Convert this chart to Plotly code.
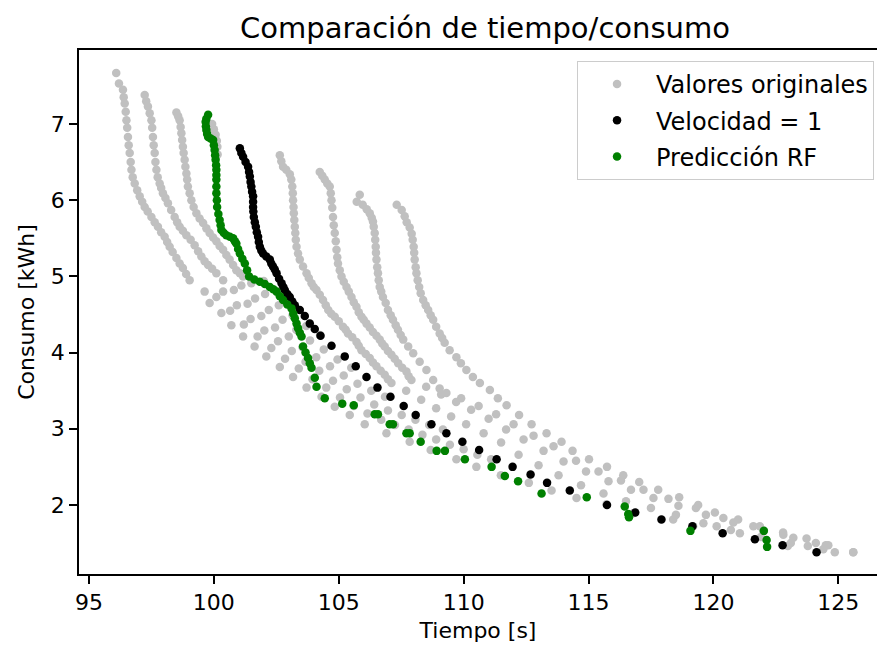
import plotly.graph_objects as go

# ---------------- data ----------------
# "Valores originales": gray curves (time [s], consumption [kWh])
gray_c1 = [(96.09,7.67),(96.20,7.53),(96.36,7.45),(96.39,7.35),(96.43,7.27),(96.47,7.16),(96.50,7.05),
           (96.53,6.95),(96.56,6.83),(96.59,6.72),(96.63,6.62),(96.67,6.50),(96.70,6.40),(96.75,6.30),
           (96.83,6.22),(96.93,6.13),(97.03,6.05),(97.13,5.98),(97.23,5.91),(97.35,5.85),(97.50,5.78),
           (97.63,5.71),(97.76,5.65),(97.89,5.58),(98.03,5.52),(98.13,5.45),(98.23,5.39),(98.35,5.32),
           (98.50,5.24),(98.63,5.17),(98.76,5.11),(98.89,5.03),(99.03,4.95),
           (99.63,4.80),(99.83,4.65),(100.30,4.52),(100.70,4.36),(101.17,4.21),(101.63,4.08),(102.10,3.95),
           (102.64,3.81),(103.17,3.68),(103.71,3.54),(104.31,3.42),(104.84,3.29),(105.44,3.18),(106.04,3.06),
           (106.91,2.94),(107.84,2.83),(108.68,2.72),(109.71,2.60),(110.51,2.50),(111.49,2.39),(112.61,2.29),
           (113.52,2.19),(114.52,2.09),(115.72,2.01),(116.79,1.89),(118.39,1.81),(119.19,1.72),(120.13,1.72),
           (121.06,1.63),(122.98,1.46),(123.78,1.46),(124.86,1.38),(125.60,1.38)]
gray_c2 = [(97.23,7.38),(97.29,7.30),(97.36,7.23),(97.43,7.14),(97.50,7.05),(97.53,6.95),(97.56,6.83),
           (97.59,6.72),(97.63,6.62),(97.66,6.50),(97.70,6.40),(97.75,6.30),(97.83,6.22),(97.89,6.16),
           (97.96,6.09),(98.06,6.03),(98.16,5.96),(98.29,5.87),(98.43,5.78),(98.53,5.71),(98.63,5.65),
           (98.76,5.60),(98.90,5.54),(99.07,5.48),(99.23,5.41),(99.37,5.33),(99.50,5.26),(99.63,5.20),
           (99.77,5.15),(99.93,5.10),(100.10,5.04),(100.37,4.95)]
gray_c3 = [(98.50,7.15),(98.57,7.10),(98.63,7.05),(98.67,6.96),(98.70,6.88),(98.73,6.79),(98.76,6.70),
           (98.79,6.62),(98.83,6.53),(98.86,6.44),(98.90,6.35),(98.93,6.27),(98.96,6.18),(99.03,6.09),
           (99.10,6.00),(99.19,5.91),(99.30,5.83),(99.43,5.76),(99.57,5.70),(99.70,5.63),(99.83,5.57),
           (99.97,5.51),(100.10,5.46),(100.23,5.40),(100.37,5.35),(100.50,5.28),(100.63,5.22),(100.77,5.15),
           (100.90,5.08),(101.04,5.04),(101.17,5.00)]
gray_c3b = [(99.93,7.00),(100.00,6.93),(100.07,6.86),(100.12,6.78),(100.14,6.70),(100.15,6.60)]
# sparse lattice rows between the lowest curve and the "Velocidad = 1" curve
gray_row1 = [(100.10,4.73),(100.65,4.55),(101.20,4.37),(101.75,4.21),(102.30,4.06),(102.85,3.92),(103.40,3.79),
             (103.95,3.65),(104.50,3.54),(105.05,3.41),(105.60,3.30),(106.15,3.20),(106.70,3.12),(107.25,3.05),
             (107.80,2.99),(108.35,2.92),(108.90,2.86),(109.45,2.79),(110.00,2.73),(110.55,2.66),(111.10,2.60)]
gray_row2 = [(100.37,4.80),(100.92,4.62),(101.47,4.44),(102.02,4.29),(102.57,4.15),(103.12,4.02),(103.67,3.88),
             (104.22,3.76),(104.77,3.63),(105.32,3.52),(105.87,3.41),(106.42,3.32),(106.97,3.24),(107.52,3.18),
             (108.07,3.12),(108.62,3.05),(109.17,2.99)]
gray_row3 = [(100.80,4.82),(101.35,4.64),(101.90,4.48),(102.45,4.33),(103.00,4.21),(103.55,4.07),(104.10,3.94),
             (104.65,3.82),(105.20,3.70),(105.75,3.59),(106.30,3.50),(106.85,3.42)]
gray_row4 = [(101.10,4.88),(101.65,4.71),(102.20,4.56),(102.75,4.43),(103.30,4.30),(103.85,4.16),(104.40,4.04),
             (104.95,3.91),(105.50,3.80)]
gray_row5 = [(101.50,4.91),(102.05,4.77),(102.60,4.62),(103.15,4.49),(103.70,4.35),(104.25,4.23)]
gray_row6 = [(102.00,4.94),(102.55,4.80),(103.10,4.67)]
gray_c4 = [(102.64,6.59),(102.70,6.51),(102.77,6.44),(102.90,6.40),(103.04,6.34),(103.10,6.27),(103.14,6.18),
           (103.16,6.09),(103.17,6.00),(103.19,5.91),(103.20,5.83),(103.22,5.74),(103.24,5.65),(103.26,5.57),
           (103.28,5.48),(103.31,5.39),(103.37,5.30),(103.44,5.22),(103.57,5.13),(103.71,5.04),(103.80,4.98),
           (103.91,4.91),(104.00,4.86),(104.11,4.82),(104.24,4.76),(104.37,4.69),(104.48,4.62),(104.58,4.56),
           (104.70,4.51),(104.84,4.47),(105.00,4.41),(105.17,4.34),(105.28,4.30),(105.37,4.25),(105.54,4.20),
           (105.71,4.14),(105.80,4.09),(105.91,4.03),(106.08,3.98),(106.24,3.93),(106.37,3.87),(106.51,3.82),
           (106.68,3.76),(106.84,3.71),(106.97,3.65),(107.11,3.60),
           (107.7,3.50),(108.3,3.38),(108.9,3.27),(109.5,3.16),(110.1,3.06),(110.8,2.94),(111.5,2.82),
           (112.2,2.66),(113.0,2.52),(113.8,2.39),(114.7,2.26),(115.6,2.15),(116.5,2.05),(117.5,1.96),
           (118.5,1.87),(119.6,1.76),(120.7,1.67),(121.9,1.58),(123.1,1.50),(124.4,1.42)]
gray_c5 = [(104.24,6.37),(104.34,6.32),(104.44,6.27),(104.54,6.22),(104.64,6.18),(104.68,6.09),(104.71,6.00),
           (104.74,5.90),(104.77,5.78),(104.80,5.67),(104.84,5.57),(104.88,5.46),(104.91,5.35),(104.94,5.25),
           (104.97,5.17),(105.04,5.08),(105.11,5.00),(105.20,4.93),(105.31,4.86),(105.40,4.80),(105.51,4.73),
           (105.60,4.66),(105.71,4.60),(105.80,4.53),(105.91,4.47),(106.00,4.43),(106.11,4.38),(106.24,4.33),
           (106.37,4.27),(106.51,4.22),(106.64,4.17),(106.74,4.12),(106.84,4.08),(106.97,4.02),(107.11,3.97),
           (107.24,3.92),(107.38,3.86),(107.54,3.80),(107.71,3.75),(107.80,3.69),(107.91,3.64),
           (108.5,3.55),(109.1,3.45),(109.7,3.35),(110.3,3.25),(111.0,3.13),(111.7,2.99),(112.4,2.86),
           (113.2,2.71),(114.0,2.57),(114.9,2.44),(115.8,2.31),(116.7,2.20),(117.6,2.09),(118.6,1.99),
           (119.7,1.87),(120.8,1.77),(122.0,1.66),(123.2,1.57),(124.5,1.47)]
gray_c6 = [(105.84,6.07),(105.72,5.98),(105.96,5.94),(106.12,5.88),(106.24,5.83),(106.32,5.77),(106.37,5.72),
           (106.40,5.65),(106.44,5.57),(106.46,5.48),(106.48,5.39),(106.49,5.31),(106.51,5.22),(106.54,5.12),
           (106.57,5.04),(106.60,4.95),(106.64,4.86),(106.70,4.80),(106.77,4.73),(106.88,4.65),(106.97,4.56),
           (107.08,4.49),(107.17,4.43),(107.28,4.36),(107.37,4.30),(107.48,4.23),(107.58,4.17),(107.78,4.08),
           (107.98,3.99),(108.24,3.88),(108.51,3.77),(108.78,3.64),(109.04,3.53),(109.31,3.47),
           (109.9,3.40),(110.6,3.30),(111.3,3.19),(112.0,3.06),(112.8,2.91),(113.6,2.77),(114.5,2.58),
           (115.4,2.44),(116.3,2.32),(117.2,2.20),(118.2,2.08),(119.3,1.96),(120.4,1.83),(121.6,1.72),
           (122.8,1.61),(124.1,1.50)]
gray_c7 = [(107.32,5.94),(107.52,5.87),(107.64,5.79),(107.72,5.71),(107.84,5.64),(107.92,5.56),(107.96,5.48),
           (108.00,5.39),(108.02,5.31),(108.04,5.22),(108.08,5.12),(108.11,5.04),(108.16,4.95),(108.22,4.86),
           (108.28,4.78),(108.38,4.69),(108.48,4.62),(108.58,4.56),(108.68,4.49),(108.78,4.43),(108.90,4.34),
           (109.04,4.25),(109.14,4.19),(109.24,4.13),(109.44,4.03),(109.71,3.94),(109.89,3.86),(110.11,3.77),
           (110.37,3.68),(110.65,3.60),(111.05,3.51),(111.37,3.40),(111.72,3.31),(112.22,3.18),(112.72,3.06),
           (113.32,2.94),(113.92,2.83),(114.36,2.71),(115.02,2.60),(115.74,2.50),(116.39,2.39),(117.03,2.30),
           (117.79,2.20),(118.63,2.10),(119.39,2.00),(120.06,1.90),(120.99,1.81),(121.86,1.72),(122.79,1.64),
           (123.73,1.56),(124.60,1.47),(125.60,1.38)]

# "Velocidad = 1"
velocidad_1 = [(101.04,6.68),(101.10,6.62),(101.17,6.57),(101.27,6.50),(101.37,6.44),(101.41,6.37),(101.44,6.31),
               (101.47,6.24),(101.50,6.18),(101.53,6.11),(101.57,6.05),(101.57,5.98),(101.57,5.91),(101.58,5.85),
               (101.60,5.78),(101.64,5.71),(101.68,5.65),(101.72,5.58),(101.77,5.52),(101.80,5.45),(101.84,5.39),
               (101.90,5.34),(101.97,5.30),(102.10,5.26),(102.24,5.22),(102.30,5.17),(102.37,5.13),(102.44,5.09),
               (102.51,5.04),(102.61,4.97),(102.71,4.91),(102.78,4.86),(102.84,4.82),(102.94,4.77),(103.04,4.73),
               (103.14,4.67),(103.24,4.62),(103.44,4.56),(103.64,4.48),(103.84,4.38),(104.04,4.31),(104.27,4.22),
               (104.71,4.09),(105.24,3.95),(105.68,3.82),(106.11,3.68),(106.55,3.54),(107.07,3.42),(107.60,3.30),
               (108.08,3.18),(108.71,3.06),(109.31,2.94),(109.95,2.83),(110.62,2.72),(111.32,2.60),(111.96,2.50),
               (112.68,2.40),(113.34,2.29),(114.25,2.19),(115.74,2.00),(116.87,1.90),(117.92,1.81),(119.16,1.72),
               (120.37,1.63),(121.66,1.55),(122.77,1.47),(124.13,1.38)]

# "Predicción RF"
prediccion_rf = [(99.77,7.12),(99.70,7.07),(99.67,7.03),(99.68,6.97),(99.70,6.92),(99.73,6.87),(99.77,6.83),
                 (99.87,6.81),(99.97,6.79),(100.00,6.72),(100.03,6.66),(100.05,6.59),(100.07,6.53),(100.09,6.46),
                 (100.10,6.40),(100.10,6.33),(100.10,6.27),(100.10,6.18),(100.10,6.09),(100.12,6.00),(100.13,5.91),
                 (100.18,5.82),(100.23,5.74),(100.27,5.67),(100.30,5.61),(100.40,5.57),(100.50,5.54),(100.64,5.52),
                 (100.77,5.50),(100.84,5.46),(100.90,5.43),(100.97,5.36),(101.04,5.30),(101.14,5.23),(101.24,5.17),
                 (101.33,5.08),(101.41,5.00),(101.62,4.96),(101.84,4.93),(102.04,4.90),(102.24,4.86),(102.38,4.83),
                 (102.51,4.80),(102.64,4.74),(102.77,4.69),(102.94,4.63),(103.11,4.58),(103.18,4.51),(103.24,4.45),
                 (103.31,4.38),(103.37,4.32),(103.44,4.26),(103.51,4.21),(103.57,4.08),(103.67,4.00),(103.77,3.93),
                 (103.84,3.86),(103.91,3.80),(104.04,3.67),(104.11,3.55),(104.44,3.40),(105.14,3.33),(105.60,3.31),
                 (106.44,3.19),(106.57,3.19),(107.04,3.06),(107.17,3.06),(107.71,2.94),(107.84,2.94),(108.28,2.83),
                 (108.92,2.71),(109.25,2.71),(110.05,2.60),(111.12,2.50),(111.65,2.38),(112.18,2.31),(113.12,2.15),
                 (114.93,2.10),(116.45,1.98),(116.59,1.88),(116.62,1.84),(119.08,1.66),(122.02,1.66),(122.13,1.54),
                 (122.15,1.45)]

x_ticks = [95, 100, 105, 110, 115, 120, 125]
y_ticks = [2, 3, 4, 5, 6, 7]

# ---------------- figure ----------------
FONT = "DejaVu Sans"
MS = 8.5
gray_all = (gray_c1 + gray_c2 + gray_c3 + gray_c3b + gray_row1 + gray_row2 + gray_row3 + gray_row4 +
            gray_row5 + gray_row6 + gray_c4 + gray_c5 + gray_c6 + gray_c7)

fig = go.Figure()
fig.add_trace(go.Scatter(x=[p[0] for p in gray_all], y=[p[1] for p in gray_all], mode="markers",
                         name="Valores originales", legendgroup="g1",
                         marker=dict(color="#c0c0c0", size=MS, line=dict(width=0))))
fig.add_trace(go.Scatter(x=[p[0] for p in velocidad_1], y=[p[1] for p in velocidad_1], mode="markers",
                         name="Velocidad = 1", legendgroup="g2",
                         marker=dict(color="black", size=MS, line=dict(width=0))))
fig.add_trace(go.Scatter(x=[p[0] for p in prediccion_rf], y=[p[1] for p in prediccion_rf], mode="markers",
                         name="Predicción RF", legendgroup="g3",
                         marker=dict(color="#008000", size=MS, line=dict(width=0))))

axis_common = dict(showgrid=False, zeroline=False, showline=True, linecolor="black", linewidth=1.6,
                   ticks="outside", ticklen=8, tickwidth=1.6, tickcolor="black", automargin=False,
                   tickfont=dict(family=FONT, size=22, color="black"))

fig.update_layout(
    width=877, height=649,
    margin=dict(l=79, r=0, t=50, b=75, autoexpand=False),
    paper_bgcolor="white", plot_bgcolor="white",
    font=dict(family=FONT, color="black"),
    title=dict(text="Comparación de tiempo/consumo", font=dict(family=FONT, size=29, color="black"),
               x=0.553, xref="container", xanchor="center", y=1 - 28 / 649, yref="container", yanchor="middle"),
    xaxis=dict(range=[94.60, 126.55], tickvals=x_ticks, mirror=True,
               title=dict(text="Tiempo [s]", font=dict(family=FONT, size=22, color="black"), standoff=8),
               **axis_common),
    yaxis=dict(range=[1.094, 7.971], tickvals=y_ticks,
               title=dict(text="Consumo [kWh]", font=dict(family=FONT, size=22, color="black"), standoff=10),
               **axis_common),
    legend=dict(x=0.6241, xanchor="left", y=0.979, yanchor="top", bgcolor="rgba(255,255,255,0.85)",
                bordercolor="#cccccc", borderwidth=1, font=dict(family=FONT, size=24, color="black"),
                itemsizing="trace", itemwidth=68, traceorder="grouped", tracegroupgap=2),
    showlegend=True,
)

fig.write_html("out.html", config={"displayModeBar": False},
               post_script="document.body.style.margin='0';document.body.style.overflow='hidden';")
